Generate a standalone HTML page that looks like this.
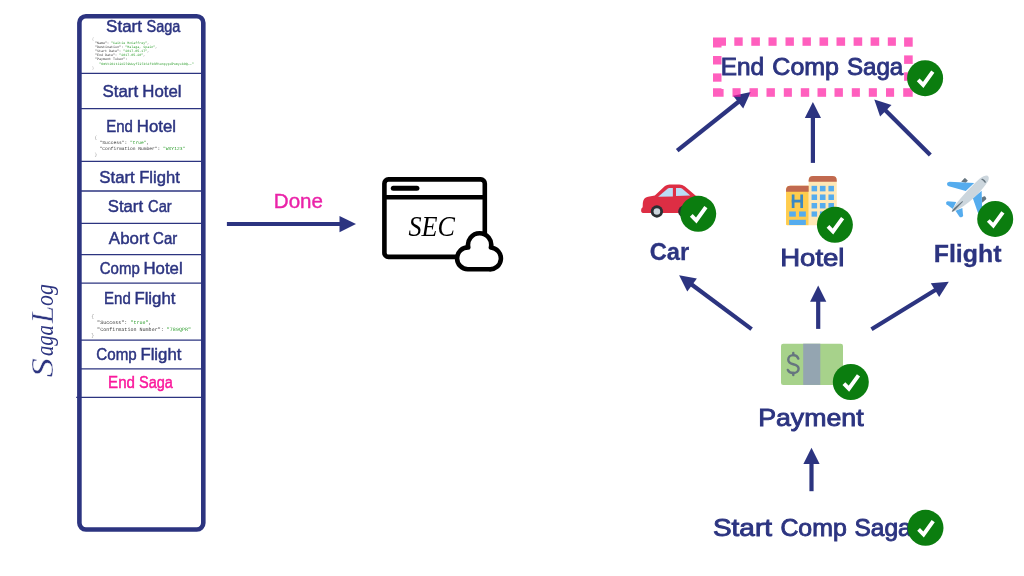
<!DOCTYPE html>
<html>
<head>
<meta charset="utf-8">
<title>Saga Log</title>
<style>
  html, body { margin: 0; padding: 0; background: #ffffff; }
  body { width: 1024px; height: 576px; overflow: hidden; font-family: "Liberation Sans", sans-serif; }
  svg { display: block; will-change: transform; transform: translateZ(0); }
  .lbl { font-family: "Liberation Sans", sans-serif; fill: #2c3480; stroke: #2c3480; stroke-width: 0.45px; text-anchor: start; }
  .pink { fill: #fa1a9c; stroke: #fa1a9c; }
  .done { font-family: "Liberation Sans", sans-serif; fill: #ea22a8; stroke: #ea22a8; stroke-width: 0.4px; }
  .big { font-family: "Liberation Sans", sans-serif; fill: #2c3480; stroke: #2c3480; stroke-width: 0.9px; }
  .bold { font-family: "Liberation Sans", sans-serif; font-weight: bold; fill: #2c3480; stroke: #2c3480; stroke-width: 0.3px; }
  .mono { font-family: "Liberation Mono", monospace; fill: #3a3a3a; white-space: pre; text-rendering: geometricPrecision; }
  .g { fill: #2f9e2f; }
  .script { font-family: "Liberation Serif", serif; font-style: italic; }
</style>
</head>
<body>
<svg width="1024" height="576" viewBox="0 0 1024 576">
  <defs>
    <g id="chk">
      <circle cx="0" cy="0" r="18" fill="#0b7d0f"/>
      <polyline points="-6.9,1.6 -1.9,6.7 7.7,-6.6" fill="none" stroke="#ffffff" stroke-width="3.9" stroke-linecap="butt" stroke-linejoin="miter"/>
    </g>
  </defs>
  <rect x="0" y="0" width="1024" height="576" fill="#ffffff"/>

  <!-- ============ SAGA LOG BOX ============ -->
  <g id="log">
    <rect x="79.4" y="16.3" width="123.9" height="513.2" rx="6.5" ry="6.5" fill="#ffffff" stroke="#2c3480" stroke-width="4.6"/>
    <g stroke="#2c3480" stroke-width="1.3">
      <line x1="80" y1="73.3" x2="203" y2="73.3"/>
      <line x1="80" y1="108.6" x2="203" y2="108.6"/>
      <line x1="80" y1="161.3" x2="203" y2="161.3"/>
      <line x1="80" y1="191" x2="203" y2="191"/>
      <line x1="80" y1="223.3" x2="203" y2="223.3"/>
      <line x1="80" y1="254.6" x2="203" y2="254.6"/>
      <line x1="80" y1="283.1" x2="203" y2="283.1"/>
      <line x1="80" y1="340.2" x2="203" y2="340.2"/>
      <line x1="80" y1="368.8" x2="203" y2="368.8"/>
      <line x1="76.2" y1="397.3" x2="203" y2="397.3"/>
    </g>
    <!-- labels -->

    <!-- json: start saga -->
    <g class="mono" transform="scale(0.1)" font-size="33.5">
      <text x="920" y="402" fill="#9a9a9a">{</text>
      <text x="950" y="440">"Name": <tspan class="g">"Caitie McCaffrey"</tspan>,</text>
      <text x="950" y="481">"Destination": <tspan class="g">"Malaga, Spain"</tspan>,</text>
      <text x="950" y="522">"Start Date": <tspan class="g">"2017-05-17"</tspan>,</text>
      <text x="950" y="563">"End Date": <tspan class="g">"2017-05-20"</tspan>,</text>
      <text x="950" y="604">"Payment Token":</text>
      <text x="993" y="645" class="g">"OmVtiG1ti2dJl9WuyfI2lkS1f1GRhxmpypdPomyxbOQ=="</text>
      <text x="920" y="687" fill="#9a9a9a">}</text>
    </g>
    <!-- json: end hotel -->
    <g class="mono" transform="scale(0.1)" font-size="46.0">
      <text x="944" y="1388" fill="#9a9a9a">{</text>
      <text x="996" y="1443">"Success": <tspan class="g">"true"</tspan>,</text>
      <text x="996" y="1498">"Confirmation Number": <tspan class="g">"WXY123"</tspan></text>
      <text x="944" y="1558" fill="#9a9a9a">}</text>
    </g>
    <!-- json: end flight -->
    <g class="mono" transform="scale(0.1)" font-size="50.5">
      <text x="912" y="3180" fill="#9a9a9a">{</text>
      <text x="971" y="3243">"Success": <tspan class="g">"true"</tspan>,</text>
      <text x="971" y="3305">"Confirmation Number": <tspan class="g">"789QPR"</tspan></text>
      <text x="912" y="3369" fill="#9a9a9a">}</text>
    </g>
    <!-- Saga Log vertical script -->
    <g class="script" transform="translate(52.6,377.4) rotate(-90)" fill="#2c3480">
      <text x="0" y="0" font-size="31" textLength="19.5" lengthAdjust="spacingAndGlyphs" stroke="#ffffff" stroke-width="0.4">S</text>
      <text x="21.3" y="0" font-size="24.5" textLength="31" lengthAdjust="spacingAndGlyphs">aga</text>
      <text x="54.2" y="0" font-size="31" textLength="17.5" lengthAdjust="spacingAndGlyphs" stroke="#ffffff" stroke-width="0.4">L</text>
      <text x="71.4" y="0" font-size="24.5" textLength="21.8" lengthAdjust="spacingAndGlyphs">og</text>
    </g>
  </g>

  <!-- ============ MIDDLE: Done arrow + SEC ============ -->
  <g id="mid">
    <line x1="226.9" y1="224" x2="341" y2="224" stroke="#2c3480" stroke-width="4.1"/>
    <polygon points="339.5,215.9 356,224.1 339.5,232.3" fill="#2c3480"/>

    <!-- window icon -->
    <rect x="384.4" y="179.4" width="100.4" height="77.5" rx="4" ry="4" fill="#ffffff" stroke="#000000" stroke-width="4.6"/>
    <line x1="384.4" y1="197.3" x2="484.8" y2="197.3" stroke="#000" stroke-width="4.6"/>
    <line x1="393.3" y1="188.3" x2="416.9" y2="188.3" stroke="#000" stroke-width="5" stroke-linecap="round"/>
    <text class="script" x="408.5" y="235.8" font-size="29" fill="#000" textLength="46.5" lengthAdjust="spacingAndGlyphs">SEC</text>
    <!-- cloud -->
    <path id="cloud" d="M 467.8 269.3 A 10.94 10.94 0 1 1 468.3 247.4 A 11.6 11.6 0 1 1 490.9 247.5 A 10.94 10.94 0 1 1 489 269.3 Z" fill="#ffffff" stroke="#000000" stroke-width="4.6" stroke-linejoin="round"/>
  </g>

  <!-- ============ RIGHT: graph ============ -->
  <g id="graph">
    <!-- arrows -->
    <g id="arrows">
      <line x1="677.2" y1="150.6" x2="738.9" y2="101.5" stroke="#2c3480" stroke-width="4.2"/>
      <polygon points="743.2,108.4 750.8,92.0 733.1,95.8" fill="#2c3480"/>
      <line x1="812.9" y1="162.9" x2="812.9" y2="117.1" stroke="#2c3480" stroke-width="4.2"/>
      <polygon points="821.0,118.1 812.9,101.9 804.8,118.1" fill="#2c3480"/>
      <line x1="930.3" y1="155.1" x2="885.1" y2="110.1" stroke="#2c3480" stroke-width="4.2"/>
      <polygon points="891.5,105.1 874.3,99.4 880.1,116.6" fill="#2c3480"/>
      <line x1="751.6" y1="329.1" x2="691.3" y2="284.3" stroke="#2c3480" stroke-width="4.2"/>
      <polygon points="696.9,278.4 679.1,275.2 687.3,291.4" fill="#2c3480"/>
      <line x1="818.2" y1="328.9" x2="818.2" y2="300.7" stroke="#2c3480" stroke-width="4.2"/>
      <polygon points="826.3,301.7 818.2,285.5 810.1,301.7" fill="#2c3480"/>
      <line x1="871.5" y1="329.2" x2="935.8" y2="289.7" stroke="#2c3480" stroke-width="4.2"/>
      <polygon points="939.2,297.1 948.8,281.7 930.8,283.3" fill="#2c3480"/>
      <line x1="811.5" y1="491.2" x2="811.5" y2="463.0" stroke="#2c3480" stroke-width="4.2"/>
      <polygon points="819.6,464.0 811.5,447.8 803.4,464.0" fill="#2c3480"/>
    </g>

    <!-- dashed pink box (semi-transparent, over arrows) -->
    <g id="dash" fill="#ff17a1" fill-opacity="0.69">
      <rect x="734.3" y="37.4" width="8.4" height="8.4"/>
      <rect x="751.3" y="37.4" width="8.6" height="8.4"/>
      <rect x="768.5" y="37.4" width="8.1" height="8.4"/>
      <rect x="785.5" y="37.4" width="8.4" height="8.4"/>
      <rect x="802.5" y="37.4" width="8.4" height="8.4"/>
      <rect x="819.5" y="37.4" width="8.6" height="8.4"/>
      <rect x="836.5" y="37.4" width="8.6" height="8.4"/>
      <rect x="853.6" y="37.4" width="8.6" height="8.4"/>
      <rect x="870.6" y="37.4" width="8.6" height="8.4"/>
      <rect x="887.8" y="37.4" width="8.1" height="8.4"/>
      <rect x="732.5" y="88.2" width="8.1" height="8.6"/>
      <rect x="749.5" y="88.2" width="8.4" height="8.6"/>
      <rect x="766.5" y="88.2" width="8.4" height="8.6"/>
      <rect x="783.8" y="88.2" width="8.1" height="8.6"/>
      <rect x="800.8" y="88.2" width="8.4" height="8.6"/>
      <rect x="817.5" y="88.2" width="8.6" height="8.6"/>
      <rect x="834.5" y="88.2" width="8.4" height="8.6"/>
      <rect x="851.8" y="88.2" width="8.1" height="8.6"/>
      <rect x="868.8" y="88.2" width="8.1" height="8.6"/>
      <rect x="886.0" y="88.2" width="8.1" height="8.6"/>
      <path d="M713 37.4 H726 V45.8 H721.5 V47.4 H713 Z"/>
      <path d="M904.1 37.4 H912.7 V46.7 H904.1 Z"/>
      <path d="M713 88.2 H721.5 V88.9 H723.6 V96.8 H713 Z"/>
      <path d="M903.2 88.2 H912.7 V96.8 H903.2 Z"/>
      <rect x="713.0" y="56.0" width="8.5" height="8.5"/>
      <rect x="713.0" y="73.4" width="8.5" height="8.3"/>
      <rect x="904.1" y="55.4" width="8.6" height="8.5"/>
      <rect x="904.1" y="72.3" width="8.6" height="8.5"/>
    </g>
    <!-- car icon -->
    <g id="car" transform="translate(635,175) scale(0.08688)">
      <path d="M 88 436 Q 68 436 70 405 Q 70 380 88 370 L 90 322 Q 94 262 150 250 L 228 236 L 345 128 Q 368 108 398 108 L 510 108 Q 545 108 575 132 L 700 238 L 745 246 Q 785 256 785 330 L 785 400 Q 785 436 755 436 Z" fill="#dd2e44"/>
      <path d="M 266 250 L 378 154 Q 384 149 392 149 L 436 149 L 436 248 Z" fill="#bbddf5"/>
      <path d="M 472 149 L 522 149 Q 534 149 544 157 L 636 236 L 472 241 Z" fill="#bbddf5"/>
      <circle cx="252" cy="420" r="71" fill="#292f33"/>
      <circle cx="252" cy="420" r="38" fill="#ccd6dd"/>
      <circle cx="568" cy="420" r="71" fill="#292f33"/>
      <circle cx="568" cy="420" r="38" fill="#ccd6dd"/>
    </g>
    <use href="#chk" x="698.2" y="213.8"/>

    <!-- hotel icon -->
    <g id="hotel" transform="translate(780,170) scale(0.10417)">
      <path d="M 275 530 L 275 100 Q 275 58 317 58 L 503 58 Q 545 58 545 100 L 545 520 Q 545 530 535 530 Z" fill="#ffe8b6"/>
      <path d="M 275 112 L 275 100 Q 275 58 317 58 L 503 58 Q 545 58 545 100 L 545 112 Z" fill="#c1694f"/>
      <path d="M 58 520 L 58 192 Q 58 150 100 150 L 275 150 L 275 530 L 68 530 Q 58 530 58 520 Z" fill="#ffcc4d"/>
      <path d="M 58 208 L 58 192 Q 58 150 100 150 L 275 150 L 275 208 Z" fill="#c1694f"/>
      <g fill="#3b88c3">
        <rect x="113" y="235" width="26" height="130"/>
        <rect x="195" y="235" width="26" height="130"/>
        <rect x="113" y="285" width="108" height="27"/>
      </g>
      <g fill="#55acee">
        <rect x="88" y="398" width="64" height="50"/>
        <rect x="183" y="398" width="65" height="50"/>
        <rect x="88" y="478" width="160" height="50"/>
        <rect x="303" y="152" width="53" height="53"/><rect x="383" y="152" width="54" height="53"/><rect x="465" y="152" width="53" height="53"/>
        <rect x="303" y="235" width="53" height="53"/><rect x="383" y="235" width="54" height="53"/><rect x="465" y="235" width="53" height="53"/>
        <rect x="303" y="317" width="53" height="52"/><rect x="383" y="317" width="54" height="52"/><rect x="465" y="317" width="53" height="52"/>
        <rect x="303" y="398" width="53" height="50"/><rect x="383" y="398" width="54" height="50"/><rect x="465" y="398" width="53" height="50"/>
      </g>
    </g>
    <use href="#chk" x="834.9" y="224.8"/>

    <!-- plane icon -->
    <g id="plane" transform="translate(940,170) scale(0.0955)">
      <path d="M 222 122 L 256 86 Q 262 82 268 88 L 292 112 L 268 134 Z" fill="#66757f"/>
      <path d="M 438 288 L 462 274 Q 470 272 476 280 L 484 296 Q 486 304 480 310 L 442 342 Z" fill="#66757f"/>
      <path d="M 358 136 L 100 124 Q 66 130 76 158 Q 80 166 92 170 L 270 220 Z" fill="#55acee"/>
      <path d="M 436 216 L 442 440 Q 420 460 396 446 L 344 296 Z" fill="#55acee"/>
      <path d="M 170 336 L 80 328 Q 56 336 68 358 L 134 408 Z" fill="#55acee"/>
      <path d="M 162 428 L 234 398 L 242 478 Q 232 502 206 492 Z" fill="#55acee"/>
      <path d="M 122 438 Q 124 420 150 380 Q 200 310 300 205 Q 380 120 420 86 Q 470 48 500 60 Q 520 76 504 114 Q 470 170 400 245 Q 300 350 200 405 Q 140 440 122 438 Z" fill="#ccd6dd"/>
      <path d="M 430 96 Q 436 88 446 92 Q 470 104 480 124 Q 482 134 472 136 Q 452 110 430 96 Z" fill="#66757f"/>
      <path d="M 124 436 Q 126 422 150 398 L 232 326 Q 240 324 238 334 L 160 416 Q 136 438 124 436 Z" fill="#66757f"/>
    </g>
    <use href="#chk" x="995.2" y="218.9"/>

    <!-- money icon -->
    <g id="money">
      <rect x="781" y="343.7" width="62" height="41.2" rx="2.2" ry="2.2" fill="#a7d28b"/>
      <rect x="803.2" y="343.7" width="17.1" height="41.2" fill="#94a5b1"/>
      <g transform="translate(778,340) scale(0.08688)" fill="none" stroke="#66757f" stroke-width="28" stroke-linecap="round" stroke-linejoin="round">
        <path d="M 234 214 C 224 182 200 174 176 174 C 142 174 118 196 118 228 C 118 260 142 270 176 279 C 213 288 237 300 237 330 C 237 362 210 380 176 380 C 147 380 122 368 113 344"/>
        <path d="M 176 150 L 176 174 M 176 380 L 176 402"/>
      </g>
    </g>
    <use href="#chk" x="850.8" y="382"/>

    <!-- node labels -->
  </g>
    <!-- LABELS START -->
    <text class="lbl" y="31.6" font-size="16"><tspan x="106.11" textLength="35.85" lengthAdjust="spacingAndGlyphs">Start</tspan> <tspan x="146.54" textLength="33.84" lengthAdjust="spacingAndGlyphs">Saga</tspan></text>
    <text class="lbl" y="96.8" font-size="16"><tspan x="102.43" textLength="35.68" lengthAdjust="spacingAndGlyphs">Start</tspan> <tspan x="142.32" textLength="39.21" lengthAdjust="spacingAndGlyphs">Hotel</tspan></text>
    <text class="lbl" y="131.8" font-size="16"><tspan x="106.27" textLength="26.65" lengthAdjust="spacingAndGlyphs">End</tspan> <tspan x="136.88" textLength="39.22" lengthAdjust="spacingAndGlyphs">Hotel</tspan></text>
    <text class="lbl" y="182.5" font-size="16"><tspan x="99.26" textLength="35.50" lengthAdjust="spacingAndGlyphs">Start</tspan> <tspan x="139.19" textLength="40.60" lengthAdjust="spacingAndGlyphs">Flight</tspan></text>
    <text class="lbl" y="212.4" font-size="16"><tspan x="107.78" textLength="35.33" lengthAdjust="spacingAndGlyphs">Start</tspan> <tspan x="148.05" textLength="23.63" lengthAdjust="spacingAndGlyphs">Car</tspan></text>
    <text class="lbl" y="244.2" font-size="16"><tspan x="108.89" textLength="40.33" lengthAdjust="spacingAndGlyphs">Abort</tspan> <tspan x="153.09" textLength="24.14" lengthAdjust="spacingAndGlyphs">Car</tspan></text>
    <text class="lbl" y="273.8" font-size="16"><tspan x="99.73" textLength="40.04" lengthAdjust="spacingAndGlyphs">Comp</tspan> <tspan x="143.50" textLength="39.12" lengthAdjust="spacingAndGlyphs">Hotel</tspan></text>
    <text class="lbl" y="303.5" font-size="16"><tspan x="104.10" textLength="26.70" lengthAdjust="spacingAndGlyphs">End</tspan> <tspan x="134.42" textLength="40.93" lengthAdjust="spacingAndGlyphs">Flight</tspan></text>
    <text class="lbl" y="359.6" font-size="16"><tspan x="96.33" textLength="40.35" lengthAdjust="spacingAndGlyphs">Comp</tspan> <tspan x="140.42" textLength="40.93" lengthAdjust="spacingAndGlyphs">Flight</tspan></text>
    <text class="lbl pink" y="387.8" font-size="16"><tspan x="108.08" textLength="26.82" lengthAdjust="spacingAndGlyphs">End</tspan> <tspan x="139.01" textLength="33.87" lengthAdjust="spacingAndGlyphs">Saga</tspan></text>
    <text class="done" y="207.8" font-size="20.6"><tspan x="273.80" textLength="49.21" lengthAdjust="spacingAndGlyphs">Done</tspan></text>
    <text class="big" y="74.7" font-size="24.4"><tspan x="720.72" textLength="43.38" lengthAdjust="spacingAndGlyphs">End</tspan> <tspan x="772.34" textLength="66.67" lengthAdjust="spacingAndGlyphs">Comp</tspan> <tspan x="846.88" textLength="56.40" lengthAdjust="spacingAndGlyphs">Saga</tspan></text>
    <text class="bold" y="260.3" font-size="24.4"><tspan x="649.68" textLength="39.51" lengthAdjust="spacingAndGlyphs">Car</tspan></text>
    <text class="big" y="266.2" font-size="24.4"><tspan x="780.19" textLength="64.31" lengthAdjust="spacingAndGlyphs">Hotel</tspan></text>
    <text class="bold" y="262.4" font-size="24.4"><tspan x="933.70" textLength="67.75" lengthAdjust="spacingAndGlyphs">Flight</tspan></text>
    <text class="big" y="426.1" font-size="24.4"><tspan x="758.16" textLength="105.45" lengthAdjust="spacingAndGlyphs">Payment</tspan></text>
    <text class="big" y="536.1" font-size="24.4"><tspan x="712.95" textLength="59.05" lengthAdjust="spacingAndGlyphs">Start</tspan> <tspan x="780.40" textLength="66.39" lengthAdjust="spacingAndGlyphs">Comp</tspan> <tspan x="854.54" textLength="57.00" lengthAdjust="spacingAndGlyphs">Saga</tspan></text>
    <!-- LABELS END -->
    <use href="#chk" x="925.1" y="78.2"/>
    <use href="#chk" x="925.5" y="527.8"/>
</svg>
</body>
</html>
